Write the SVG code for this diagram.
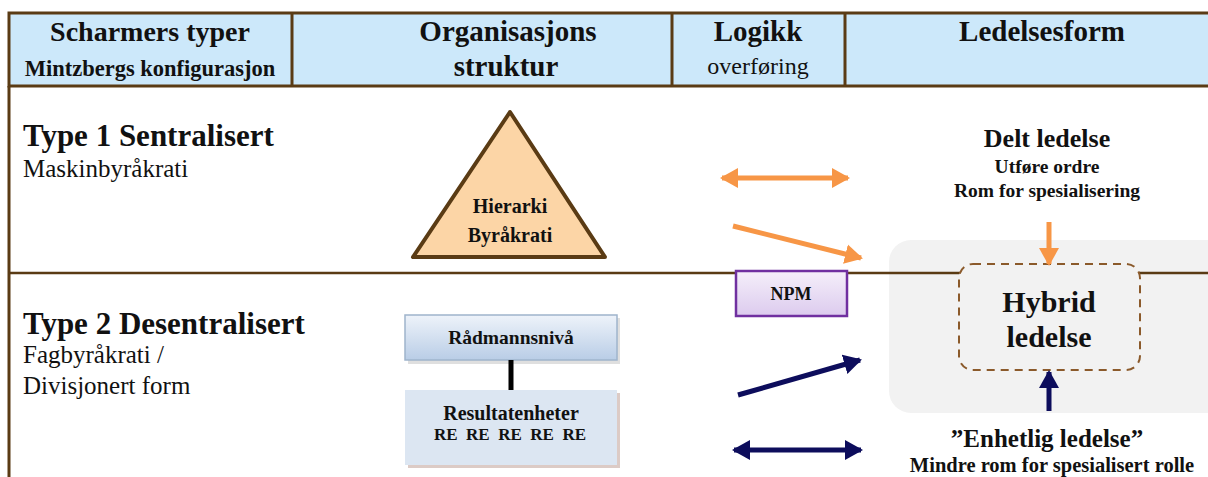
<svg xmlns="http://www.w3.org/2000/svg" width="1208" height="477" viewBox="0 0 1208 477" font-family="Liberation Serif">
<defs>
<style>
text{fill:#111}
.b{font-weight:bold}
.h{font-size:29px;font-weight:bold;text-anchor:middle}
.c{text-anchor:middle}
.div{stroke:#5a3b14;stroke-width:2.5;fill:none}
.or{stroke:#f79646;stroke-width:5;fill:none}
.nv{stroke:#0d0d5c;stroke-width:5;fill:none}
</style>
<linearGradient id="gRad" x1="0" y1="0" x2="0" y2="1"><stop offset="0" stop-color="#eef3fa"/><stop offset="1" stop-color="#b9cde6"/></linearGradient>
<linearGradient id="gNpm" x1="0" y1="0" x2="0" y2="1"><stop offset="0" stop-color="#f5effa"/><stop offset="1" stop-color="#dccbee"/></linearGradient>
<marker id="ao" markerUnits="userSpaceOnUse" markerWidth="20" markerHeight="22" refX="16" refY="11" orient="auto-start-reverse"><path d="M0,1 L18,11 L0,21 Z" fill="#f79646"/></marker>
<marker id="an" markerUnits="userSpaceOnUse" markerWidth="20" markerHeight="22" refX="16" refY="11" orient="auto-start-reverse"><path d="M0,1 L18,11 L0,21 Z" fill="#0d0d5c"/></marker>
</defs>
<rect width="1208" height="477" fill="#ffffff"/>

<g id="header" font-family="Liberation Serif">
<rect x="9" y="13" width="1204" height="73" fill="#cce8fa" stroke="#5a3b14" stroke-width="3"/>
<line x1="292" y1="13" x2="292" y2="86" stroke="#5a3b14" stroke-width="3"/>
<line x1="672" y1="13" x2="672" y2="86" stroke="#5a3b14" stroke-width="3"/>
<line x1="845" y1="13" x2="845" y2="86" stroke="#5a3b14" stroke-width="3"/>
<text x="150" y="41" class="b c" font-size="28">Scharmers typer</text>
<text x="150" y="76" class="c b" font-size="22.5">Mintzbergs konfigurasjon</text>
<text x="508" y="41" class="h">Organisasjons</text>
<text x="506" y="76" class="h">struktur</text>
<text x="758" y="41" class="h">Logikk</text>
<text x="758" y="74" class="c" font-size="24">overføring</text>
<text x="1042" y="41" class="h">Ledelsesform</text>
</g>

<g id="hybrid-bg">
<rect x="889" y="240" width="340" height="173" rx="22" fill="#f2f2f2"/>
</g>

<g id="frame">
<line x1="9" y1="86" x2="9" y2="477" stroke="#5a3b14" stroke-width="3"/>
<line x1="9" y1="273" x2="960" y2="273" class="div"/>
<line x1="1139" y1="273" x2="1208" y2="273" class="div"/>
</g>

<g id="row1-label" font-family="Liberation Serif">
<text x="23" y="146" class="b" font-size="31">Type 1 Sentralisert</text>
<text x="23" y="177" font-size="25">Maskinbyråkrati</text>
</g>

<g id="row2-label" font-family="Liberation Serif">
<text x="23" y="334" class="b" font-size="31">Type 2 Desentralisert</text>
<text x="23" y="363" font-size="25">Fagbyråkrati /</text>
<text x="23" y="394" font-size="25">Divisjonert form</text>
</g>

<g id="hierarki" font-family="Liberation Serif">
<polygon points="510,112 413,257 605,257" fill="#fcd5a6" stroke="#5a3b14" stroke-width="4" stroke-linejoin="round"/>
<text x="510" y="213" class="c b" font-size="20">Hierarki</text>
<text x="510" y="242" class="c b" font-size="20">Byråkrati</text>
</g>

<g id="hybrid" font-family="Liberation Serif">
<rect x="959" y="264" width="181" height="106" rx="14" fill="#f2f2f2" stroke="#8b5a2b" stroke-width="2" stroke-dasharray="8,6"/>
<text x="1049" y="312" class="c b" font-size="30">Hybrid</text>
<text x="1049" y="347" class="c b" font-size="30">ledelse</text>
</g>

<g id="npm" font-family="Liberation Serif">
<rect x="736" y="271" width="111" height="45" fill="url(#gNpm)" stroke="#7030a0" stroke-width="2.5"/>
<text x="791" y="300" class="c b" font-size="18">NPM</text>
</g>

<g id="delt" font-family="Liberation Serif">
<text x="1047" y="147" class="c b" font-size="26">Delt ledelse</text>
<text x="1047" y="173" class="c b" font-size="19.5">Utføre ordre</text>
<text x="1047" y="197" class="c b" font-size="19.5">Rom for spesialisering</text>
</g>

<g id="enhetlig" font-family="Liberation Serif">
<text x="1047" y="447" class="c b" font-size="25">”Enhetlig ledelse”</text>
<text x="1052" y="472" class="c b" font-size="20.5">Mindre rom for spesialisert rolle</text>
</g>

<g id="radmann" font-family="Liberation Serif">
<rect x="408" y="318" width="212" height="46" fill="#c9c9c9" opacity="0.6"/>
<rect x="405" y="315" width="212" height="45" fill="url(#gRad)" stroke="#9fb4cc" stroke-width="1.5"/>
<text x="511" y="344" class="c b" font-size="19.5">Rådmannsnivå</text>
</g>

<g id="resultat" font-family="Liberation Serif">
<rect x="408" y="393" width="212" height="75" fill="#c4a9a0" opacity="0.6"/>
<rect x="405" y="390" width="212" height="75" fill="#dce6f2"/>
<text x="511" y="420" class="c b" font-size="20">Resultatenheter</text>
<text x="510" y="440" class="c b" font-size="17" xml:space="preserve">RE  RE  RE  RE  RE</text>
</g>

<g id="connectors">
<line x1="511" y1="360" x2="511" y2="390" stroke="#000" stroke-width="5"/>
<line x1="722" y1="178" x2="848" y2="178" class="or" marker-start="url(#ao)" marker-end="url(#ao)"/>
<line x1="733" y1="226" x2="861" y2="258" class="or" marker-end="url(#ao)"/>
<line x1="1049" y1="222" x2="1049" y2="264" class="or" marker-end="url(#ao)"/>
<line x1="738" y1="395" x2="860" y2="360" class="nv" marker-end="url(#an)"/>
<line x1="734" y1="450" x2="861" y2="450" class="nv" marker-start="url(#an)" marker-end="url(#an)"/>
<line x1="1049" y1="411" x2="1049" y2="372" class="nv" marker-end="url(#an)"/>
</g>
</svg>
